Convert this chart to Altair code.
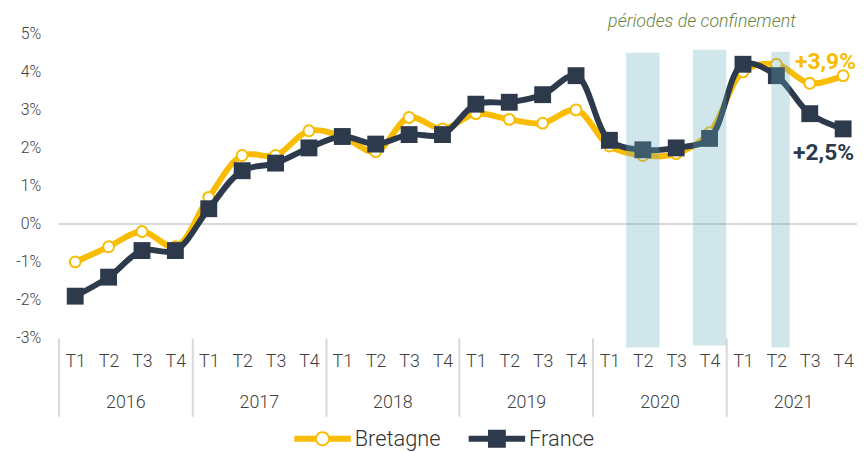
import altair as alt
import pandas as pd

# ---------------- data ----------------
quarters = ["T1", "T2", "T3", "T4"]
years = ["2016", "2017", "2018", "2019", "2020", "2021"]
series_names = ["Bretagne", "France"]
bretagne = [-1.0, -0.6, -0.2, -0.6,
            0.7, 1.8, 1.8, 2.45,
            2.3, 1.9, 2.8, 2.5,
            2.9, 2.75, 2.65, 3.0,
            2.05, 1.8, 1.85, 2.4,
            4.0, 4.2, 3.7, 3.9]
france = [-1.9, -1.4, -0.7, -0.7,
          0.4, 1.4, 1.6, 2.0,
          2.3, 2.1, 2.35, 2.35,
          3.15, 3.2, 3.4, 3.9,
          2.2, 1.95, 2.0, 2.25,
          4.2, 3.9, 2.9, 2.5]
end_labels = ["+3,9%", "+2,5%"]
# lockdown periods (position on the quarter axis, vertical extent in %)
lock_start = [16.5, 18.5, 20.85]
lock_end = [17.5, 19.5, 21.4]
lock_top = [4.5, 4.58, 4.53]
lock_bottom = [-3.25, -3.2, -3.25]
annotation_text = ["périodes de confinement"]
annotation_x = [18.77]
annotation_y = [5.3]
y_ticks = [-3, -2, -1, 0, 1, 2, 3, 4, 5]

# ---------------- styles ----------------
YEL = "#f9bc00"
DARK = "#2c3a4b"
FONT = "Roboto"
TXT = "#404040"

nq = len(quarters)
n = len(years) * nq
idx = list(range(n))

df = pd.DataFrame({
    "i": idx * 2,
    "value": bretagne + france,
    "series": ["Bretagne"] * n + ["France"] * n,
})
lock_df = pd.DataFrame({"start": lock_start, "end": lock_end,
                        "top": lock_top, "bottom": lock_bottom})
ends_df = pd.DataFrame({"i": [n - 1, n - 1],
                        "value": [bretagne[-1], france[-1]],
                        "label": end_labels, "series": series_names})
ann_df = pd.DataFrame({"i": annotation_x, "value": annotation_y, "label": annotation_text})
zero_df = pd.DataFrame({"value": [0]})

xs = alt.Scale(domain=[-0.5, n - 0.585], nice=False, zero=False)
ys = alt.Scale(domain=[-3, 5], nice=False, zero=False)

q_js = "[" + ",".join(f"'{q}'" for q in quarters) + "]"
y_js = "[" + ",".join(f"'{y}'" for y in years) + "]"

axis_q = alt.Axis(orient="bottom", values=idx, labelExpr=f"{q_js}[datum.value % {nq}]",
                  ticks=False, domain=False, grid=False, labelPadding=15,
                  labelFontSize=18, labelFont=FONT, labelFontWeight=300, labelColor=TXT,
                  labelFlush=False, labelOverlap=False, title=None)
axis_sep = alt.Axis(orient="bottom", values=[k * nq - 0.5 for k in range(len(years))],
                    labels=False, ticks=True, tickSize=79, tickColor="#d9d9d9", tickWidth=2,
                    domain=False, grid=False, title=None)
axis_year = alt.Axis(orient="bottom", values=[k * nq + (nq - 1) / 2 for k in range(len(years))],
                     labelExpr=f"{y_js}[floor(datum.value / {nq})]",
                     ticks=False, domain=False, grid=False, labelPadding=56,
                     labelFontSize=18, labelFont=FONT, labelFontWeight=300, labelColor=TXT,
                     labelFlush=False, labelOverlap=False, title=None)
axis_y = alt.Axis(orient="left", values=y_ticks, labelExpr="datum.value + '%'", ticks=False,
                  domain=False, grid=False, labelPadding=18, labelFontSize=16, labelFont=FONT,
                  labelFontWeight=300, labelColor=TXT, title=None)

# legend symbols (unit coordinates)
path_b = ("M-1,-0.105L-0.22,-0.105L-0.22,0.105L-1,0.105Z"
          "M0.22,-0.105L1,-0.105L1,0.105L0.22,0.105Z"
          "M0.263,0A0.263,0.263 0 1 1 -0.263,0A0.263,0.263 0 1 1 0.263,0Z"
          "M0.2,0A0.2,0.2 0 1 0 -0.2,0A0.2,0.2 0 1 0 0.2,0Z")
path_f = ("M-1,-0.105L1,-0.105L1,0.105L-1,0.105Z"
          "M-0.316,-0.316L0.316,-0.316L0.316,0.316L-0.316,0.316Z")

leg = alt.Legend(orient="none", legendX=238, legendY=380, direction="horizontal", title=None,
                 symbolSize=3249, symbolStrokeWidth=0, symbolOpacity=1,
                 labelFont=FONT, labelFontSize=22, labelFontWeight=300, labelColor="#333333",
                 labelOffset=4, columnPadding=28)

base = alt.Chart(df)

zero = alt.Chart(zero_df).mark_rule(color="#d9d9d9", strokeWidth=2).encode(
    y=alt.Y("value:Q", scale=ys, axis=axis_y))

line_b = base.mark_line(color=YEL, strokeWidth=6, interpolate="catmull-rom").encode(
    x=alt.X("i:Q", scale=xs, axis=axis_q),
    y=alt.Y("value:Q", scale=ys, axis=axis_y)).transform_filter(alt.datum.series == "Bretagne")
pts_b = base.mark_point(shape="circle", filled=True, fill="white", stroke=YEL, strokeWidth=2,
                        size=120, opacity=1).encode(
    x=alt.X("i:Q", scale=xs, axis=axis_sep),
    y=alt.Y("value:Q", scale=ys, axis=axis_y)).transform_filter(alt.datum.series == "Bretagne")
line_f = base.mark_line(color=DARK, strokeWidth=6, interpolate="catmull-rom").encode(
    x=alt.X("i:Q", scale=xs, axis=axis_year),
    y=alt.Y("value:Q", scale=ys, axis=axis_y)).transform_filter(alt.datum.series == "France")
pts_f = base.mark_square(color=DARK, size=290, opacity=1).encode(
    x=alt.X("i:Q", scale=xs, axis=None),
    y=alt.Y("value:Q", scale=ys, axis=axis_y)).transform_filter(alt.datum.series == "France")

legend_layer = base.mark_point(filled=True, opacity=0, size=3249).encode(
    x=alt.X("i:Q", scale=xs, axis=None),
    y=alt.Y("value:Q", scale=ys, axis=axis_y),
    color=alt.Color("series:N", scale=alt.Scale(domain=series_names, range=[YEL, DARK]), legend=leg),
    shape=alt.Shape("series:N", scale=alt.Scale(domain=series_names, range=[path_b, path_f]), legend=leg),
)

locks = alt.Chart(lock_df).mark_rect(color="#66acbc", opacity=0.3).encode(
    x=alt.X("start:Q", scale=xs, axis=None), x2="end:Q",
    y=alt.Y("bottom:Q", scale=ys, axis=axis_y), y2="top:Q")

end_b = alt.Chart(ends_df).mark_text(align="right", baseline="middle", dx=13, dy=-14,
                                     fontSize=23, fontWeight="bold", font=FONT, color=YEL).encode(
    x=alt.X("i:Q", scale=xs, axis=None), y=alt.Y("value:Q", scale=ys, axis=axis_y),
    text="label:N").transform_filter(alt.datum.series == "Bretagne")
end_f = alt.Chart(ends_df).mark_text(align="right", baseline="middle", dx=11, dy=24,
                                     fontSize=23, fontWeight="bold", font=FONT, color=DARK).encode(
    x=alt.X("i:Q", scale=xs, axis=None), y=alt.Y("value:Q", scale=ys, axis=axis_y),
    text="label:N").transform_filter(alt.datum.series == "France")

ann = alt.Chart(ann_df).mark_text(align="center", baseline="middle", fontSize=18,
                                  fontStyle="italic", fontWeight=300, font=FONT,
                                  color="#6a8440").encode(
    x=alt.X("i:Q", scale=xs, axis=None), y=alt.Y("value:Q", scale=ys, axis=axis_y),
    text="label:N")

chart = alt.layer(zero, line_b, pts_b, line_f, pts_f, legend_layer, locks, end_b, end_f, ann).resolve_axis(
    x="independent").properties(
    width=806, height=307,
    padding={"left": 51, "top": 24, "right": 0, "bottom": 113},
    autosize=alt.AutoSizeParams(type="none"),
    background="white",
).configure_view(stroke=None)

chart.save("out.html", embed_options={"renderer": "svg", "actions": False})
